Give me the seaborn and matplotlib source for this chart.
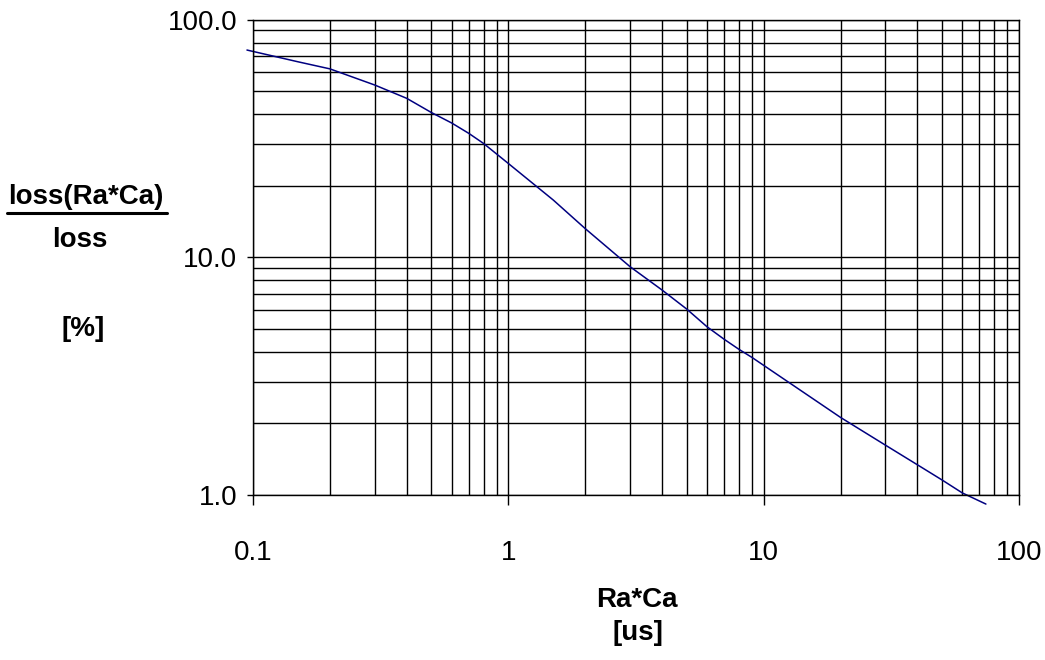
import matplotlib
matplotlib.use("Agg")
import matplotlib.pyplot as plt
from matplotlib import font_manager
from matplotlib.lines import Line2D
from matplotlib.ticker import FixedLocator, FixedFormatter, NullFormatter, LogLocator
import seaborn as sns
import pandas as pd
import numpy as np

# ---- data ----
ra_ca_us = [0.0947, 0.1, 0.15, 0.2, 0.3, 0.4, 0.5, 0.6, 0.7, 0.8, 1.0, 1.5, 2.0, 3.0, 4.0,
            5.0, 6.0, 7.0, 8.0, 9.0, 10.0, 20.0, 30.0, 40.0, 50.0, 60.0, 74.2]
loss_pct = [74.4, 73.4, 66.4, 62.0, 53.0, 46.6, 40.6, 36.7, 33.2, 30.1, 24.8, 17.4, 13.2,
            9.12, 7.28, 6.05, 5.10, 4.52, 4.10, 3.79, 3.51, 2.12, 1.62, 1.34, 1.156, 1.02,
            0.916]
x_ticks = [0.1, 1, 10, 100]
x_tick_labels = ["0.1", "1", "10", "100"]
y_ticks = [1.0, 10.0, 100.0]
y_tick_labels = ["1.0", "10.0", "100.0"]

sns.set_style("white")
available = {f.name for f in font_manager.fontManager.ttflist}
fam = "Liberation Sans Narrow" if "Liberation Sans Narrow" in available else "Liberation Sans"
plt.rcParams["font.family"] = [fam, "DejaVu Sans"]

W, H = 1045, 660
fig = plt.figure(figsize=(W / 100, H / 100), dpi=100)
L, R, T, B = 253, 1019, 19.5, 495
ax = fig.add_axes([L / W, 1 - B / H, (R - L) / W, (B - T) / H])

df = pd.DataFrame({"x": ra_ca_us, "y": loss_pct})
sns.lineplot(data=df, x="x", y="y", ax=ax, color="#000080", linewidth=1.1,
             estimator=None, sort=False)
for ln in ax.get_lines():
    ln.set_clip_on(False)

ax.set_xscale("log")
ax.set_yscale("log")
ax.set_xlim(0.1, 100)
ax.set_ylim(1, 100)

ax.xaxis.set_major_locator(FixedLocator(x_ticks))
ax.xaxis.set_major_formatter(FixedFormatter(x_tick_labels))
ax.yaxis.set_major_locator(FixedLocator(y_ticks))
ax.yaxis.set_major_formatter(FixedFormatter(y_tick_labels))
ax.xaxis.set_minor_locator(LogLocator(base=10, subs=np.arange(2, 10)))
ax.yaxis.set_minor_locator(LogLocator(base=10, subs=np.arange(2, 10)))
ax.xaxis.set_minor_formatter(NullFormatter())
ax.yaxis.set_minor_formatter(NullFormatter())

ax.grid(True, which="both", color="black", linewidth=1.0)
ax.set_axisbelow(True)
for s in ax.spines.values():
    s.set_visible(True)
    s.set_color("black")
    s.set_linewidth(1.0)

ax.tick_params(axis="x", which="major", direction="out", length=7.2, width=1.0,
               pad=25, labelsize=20, colors="black", bottom=True)
ax.tick_params(axis="y", which="major", direction="out", length=4.3, width=1.0,
               pad=7, labelsize=20, colors="black", left=True)
ax.tick_params(which="minor", length=0)
ax.set_xlabel("")
ax.set_ylabel("")

def fx(px):
    return px / W

def fy(py):
    return 1 - py / H

tkw = dict(fontsize=20, fontweight="bold", ha="center", va="center", color="black")
fig.text(fx(86), fy(197), "loss(Ra*Ca)", **tkw)
fig.add_artist(Line2D([fx(7), fx(167)], [fy(213), fy(213)], color="black",
                      linewidth=2.2, transform=fig.transFigure))
fig.text(fx(80), fy(240), "loss", **tkw)
fig.text(fx(83), fy(329), "[%]", **tkw)
fig.text(fx(637), fy(600), "Ra*Ca", **tkw)
fig.text(fx(638), fy(633), "[us]", **tkw)

fig.savefig("out.png", dpi=100)
